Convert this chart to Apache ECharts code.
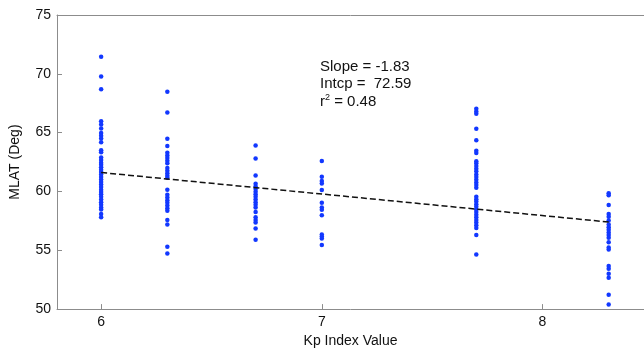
<!DOCTYPE html>
<html>
<head>
<meta charset="utf-8">
<script src="https://cdn.jsdelivr.net/npm/echarts@6/dist/echarts.min.js"></script>
<style>
  html, body { margin: 0; padding: 0; background: #fff; }
  #chart { width: 644px; height: 353px; }
</style>
</head>
<body>
<div id="chart"></div>
<script>
// Kp values of each column of points
var kpValues = [6, 6.3, 6.7, 7, 7.7, 8.3];

// MLAT readings (deg) per Kp column
var mlat60 = [71.45, 69.77, 68.68, 65.97, 65.69, 65.35, 64.96, 64.74, 64.51, 64.18, 63.51, 63.34,
  62.89, 62.67, 62.44, 62.27, 62.05, 61.85, 61.66, 61.44, 61.22, 61.02, 60.80, 60.60, 60.38,
  60.15, 59.96, 59.76, 59.54, 59.31, 59.09, 58.87, 58.64, 58.47, 58.08, 57.80];
var mlat63 = [68.48, 66.72, 64.49, 63.87, 63.28, 63.06, 62.84, 62.61, 62.39, 62.00, 61.77, 61.55,
  61.33, 61.16, 60.15, 59.71, 59.48, 59.26, 59.03, 58.81, 58.58, 58.36, 57.58, 57.19, 55.29, 54.72];
var mlat67 = [63.90, 62.81, 61.35, 60.65, 60.43, 60.21, 59.98, 59.76, 59.54, 59.31, 59.09, 58.87,
  58.64, 58.25, 57.80, 57.58, 57.36, 56.85, 55.90];
var mlat70 = [62.58, 61.24, 60.88, 60.68, 60.12, 59.03, 58.64, 58.45, 57.97, 56.35, 56.18, 56.01, 55.45];
var mlat77 = [67.03, 66.80, 66.61, 65.33, 64.35, 63.45, 63.26, 62.56, 62.39, 62.16, 61.94, 61.72,
  61.44, 61.22, 60.99, 60.77, 60.55, 60.32, 59.54, 59.34, 59.14, 58.92, 58.70, 58.47, 58.25,
  58.03, 57.80, 57.58, 57.36, 57.13, 56.90, 56.29, 54.64];
var mlat83 = [59.84, 59.67, 58.84, 58.08, 57.86, 57.53, 57.19, 56.96, 56.74, 56.52, 56.29, 56.07,
  55.68, 55.23, 55.06, 53.67, 53.44, 53.00, 52.66, 51.23, 50.39];
var mlatColumns = [mlat60, mlat63, mlat67, mlat70, mlat77, mlat83];

// fitted line end points
var fitX = [6, 8.3];
var fitY = [61.61, 57.40];

// tick labels
var xTicks = [6, 7, 8];
var yTicks = [50, 55, 60, 65, 70, 75];

var points = [];
kpValues.forEach(function (kp, i) {
  mlatColumns[i].forEach(function (v) { points.push([kp, v]); });
});
var fitLine = fitX.map(function (x, i) { return [x, fitY[i]]; });

var font = 'Liberation Sans, Arial, sans-serif';
var axisGray = '#8c8c8c';

var chart = echarts.init(document.getElementById('chart'));
chart.setOption({
  animation: false,
  backgroundColor: '#fff',
  grid: { left: 56, right: 0, top: 15, bottom: 40 },
  xAxis: [{
    type: 'value',
    min: 5.8,
    max: 8.46,
    interval: 0.2,
    name: 'Kp Index Value',
    nameLocation: 'middle',
    nameGap: 22,
    nameTextStyle: { fontFamily: font, fontSize: 14, color: '#111' },
    axisLine: { show: true, onZero: false, lineStyle: { color: axisGray, width: 1 } },
    axisTick: { show: true, inside: true, length: 5, customValues: xTicks, lineStyle: { color: axisGray } },
    axisLabel: { customValues: xTicks, fontFamily: font, fontSize: 14, color: '#111', margin: 6 },
    splitLine: { show: false }
  }, {
    type: 'value',
    position: 'top',
    min: 5.8,
    max: 8.46,
    axisLine: { show: true, lineStyle: { color: axisGray, width: 1 } },
    axisTick: { show: false },
    axisLabel: { show: false },
    splitLine: { show: false }
  }],
  yAxis: {
    type: 'value',
    min: 50,
    max: 75,
    interval: 5,
    name: 'MLAT (Deg)',
    nameLocation: 'middle',
    nameGap: 35,
    nameTextStyle: { fontFamily: font, fontSize: 14, color: '#111' },
    axisLine: { show: true, lineStyle: { color: axisGray, width: 1 } },
    axisTick: { show: true, inside: true, length: 5, customValues: yTicks, lineStyle: { color: axisGray } },
    axisLabel: { fontFamily: font, fontSize: 14, color: '#111', margin: 6 },
    splitLine: { show: false }
  },
  graphic: [{
    type: 'text',
    left: 320,
    top: 59,
    style: {
      text: '{base|Slope = -1.83}\n{base|Intcp =  72.59}\n{base|r}{sup|2}{base| = 0.48}',
      rich: {
        base: { fontFamily: font, fontSize: 15, fill: '#111', lineHeight: 17.5 },
        sup: { fontFamily: font, fontSize: 9, fill: '#111', verticalAlign: 'top', lineHeight: 17.5, padding: [0, 0, 7, 0] }
      }
    }
  }],
  series: [{
    type: 'scatter',
    data: points,
    symbol: 'circle',
    symbolSize: 4.5,
    itemStyle: { color: '#1238ff', opacity: 1 },
    z: 2
  }, {
    type: 'line',
    data: fitLine,
    symbol: 'none',
    lineStyle: { color: '#111', width: 1.5, type: [6, 3] },
    z: 3
  }]
});
</script>
</body>
</html>
